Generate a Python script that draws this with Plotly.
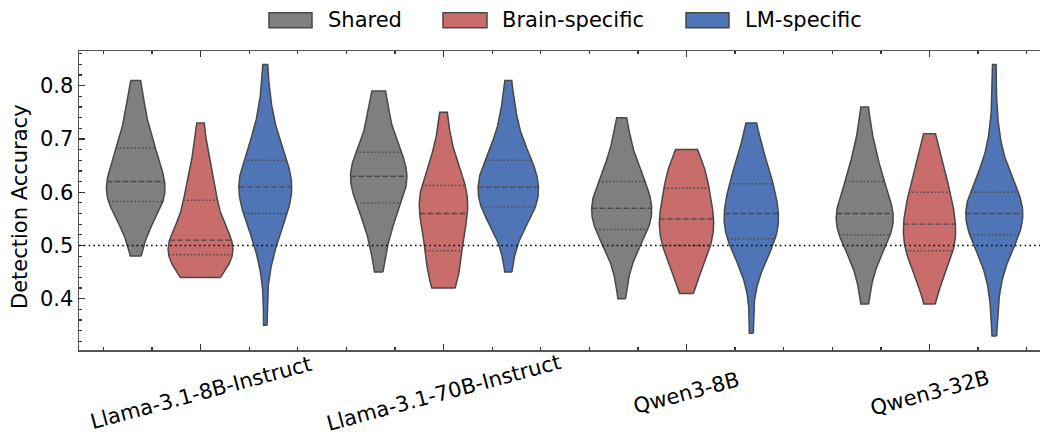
import numpy as np
import plotly.graph_objects as go

# ---------------- data ----------------
models = ["Llama-3.1-8B-Instruct", "Llama-3.1-70B-Instruct", "Qwen3-8B", "Qwen3-32B"]
groups = ["Shared", "Brain-specific", "LM-specific"]
colors = ["#7f7f7f", "#c86c6c", "#5075b6"]

llama8b_shared = [0.48, 0.51, 0.53, 0.55, 0.56, 0.57, 0.575, 0.58, 0.585, 0.59, 0.595, 0.60, 0.605, 0.61, 0.615, 0.62,
                  0.625, 0.63, 0.64, 0.65, 0.66, 0.67, 0.68, 0.685, 0.69, 0.70, 0.72, 0.74, 0.76, 0.78, 0.81]
llama8b_brain = [0.44, 0.44, 0.445, 0.45, 0.46, 0.465, 0.475, 0.48, 0.485, 0.49, 0.49, 0.495, 0.50, 0.50, 0.505, 0.51,
                 0.515, 0.52, 0.53, 0.54, 0.55, 0.57, 0.58, 0.59, 0.60, 0.61, 0.62, 0.64, 0.66, 0.69, 0.73]
llama8b_lm = [0.35, 0.46, 0.49, 0.51, 0.53, 0.54, 0.55, 0.555, 0.565, 0.575, 0.585, 0.59, 0.595, 0.60, 0.605, 0.61,
              0.615, 0.62, 0.625, 0.63, 0.64, 0.65, 0.655, 0.665, 0.67, 0.68, 0.70, 0.72, 0.74, 0.77, 0.84]

llama70b_shared = [0.45, 0.49, 0.51, 0.53, 0.545, 0.56, 0.57, 0.575, 0.585, 0.595, 0.60, 0.61, 0.615, 0.62, 0.625, 0.63,
                   0.635, 0.64, 0.645, 0.65, 0.655, 0.665, 0.67, 0.68, 0.69, 0.70, 0.72, 0.74, 0.76, 0.78, 0.79]
llama70b_brain = [0.42, 0.42, 0.43, 0.44, 0.45, 0.46, 0.475, 0.485, 0.495, 0.51, 0.52, 0.53, 0.54, 0.55, 0.555, 0.56,
                  0.565, 0.57, 0.58, 0.59, 0.60, 0.605, 0.61, 0.615, 0.62, 0.63, 0.64, 0.66, 0.68, 0.71, 0.75]
llama70b_lm = [0.45, 0.50, 0.52, 0.54, 0.55, 0.56, 0.565, 0.57, 0.575, 0.58, 0.585, 0.59, 0.595, 0.60, 0.605, 0.61,
               0.62, 0.63, 0.635, 0.64, 0.645, 0.65, 0.655, 0.665, 0.67, 0.68, 0.70, 0.72, 0.74, 0.76, 0.81]

qwen8b_shared = [0.40, 0.44, 0.47, 0.49, 0.50, 0.51, 0.52, 0.525, 0.535, 0.54, 0.545, 0.55, 0.555, 0.56, 0.565, 0.57,
                 0.575, 0.58, 0.59, 0.595, 0.60, 0.61, 0.615, 0.625, 0.63, 0.64, 0.65, 0.67, 0.69, 0.71, 0.74]
qwen8b_brain = [0.41, 0.43, 0.45, 0.465, 0.475, 0.485, 0.49, 0.495, 0.505, 0.51, 0.52, 0.53, 0.535, 0.54, 0.545, 0.55,
                0.555, 0.56, 0.57, 0.58, 0.59, 0.60, 0.605, 0.61, 0.62, 0.63, 0.64, 0.65, 0.66, 0.67, 0.68]
qwen8b_lm = [0.335, 0.43, 0.46, 0.48, 0.49, 0.50, 0.505, 0.51, 0.515, 0.525, 0.53, 0.54, 0.545, 0.55, 0.555, 0.56,
             0.565, 0.57, 0.58, 0.59, 0.60, 0.61, 0.612, 0.62, 0.63, 0.64, 0.65, 0.66, 0.68, 0.70, 0.73]

qwen32b_shared = [0.39, 0.43, 0.46, 0.48, 0.49, 0.50, 0.51, 0.515, 0.525, 0.53, 0.535, 0.54, 0.545, 0.55, 0.555, 0.56,
                  0.565, 0.57, 0.575, 0.58, 0.59, 0.60, 0.615, 0.625, 0.635, 0.645, 0.655, 0.67, 0.69, 0.72, 0.76]
qwen32b_brain = [0.39, 0.42, 0.44, 0.455, 0.465, 0.475, 0.48, 0.485, 0.495, 0.50, 0.51, 0.515, 0.52, 0.53, 0.535, 0.54,
                 0.55, 0.555, 0.56, 0.57, 0.58, 0.59, 0.595, 0.605, 0.615, 0.625, 0.635, 0.65, 0.665, 0.685, 0.71]
qwen32b_lm = [0.33, 0.40, 0.44, 0.47, 0.49, 0.50, 0.51, 0.515, 0.525, 0.53, 0.535, 0.54, 0.545, 0.55, 0.555, 0.56,
              0.565, 0.57, 0.575, 0.58, 0.585, 0.59, 0.595, 0.605, 0.615, 0.625, 0.64, 0.66, 0.69, 0.74, 0.84]

chance_level = 0.5
yticks = [0.4, 0.5, 0.6, 0.7, 0.8]

data = [
    [llama8b_shared, llama8b_brain, llama8b_lm],
    [llama70b_shared, llama70b_brain, llama70b_lm],
    [qwen8b_shared, qwen8b_brain, qwen8b_lm],
    [qwen32b_shared, qwen32b_brain, qwen32b_lm],
]

# ---------------- layout constants ----------------
W, H = 1040, 435
ML, MR, MT, MB = 79, 0, 51, 435 - 350
PX_PER_UNIT = 243.0
X_RANGE = [-0.5, -0.5 + (W - ML - MR) / PX_PER_UNIT]
Y_RANGE = [0.3037, 0.8652]
FONT = "DejaVu Sans"
FS = 21
EDGE = "#484848"
DODGE = 0.8 / 3
HALF_MAX = DODGE / 2


def kde(values, grid):
    v = np.asarray(values, dtype=float)
    n = len(v)
    bw = v.std(ddof=1) * n ** (-1 / 5)
    z = (grid[:, None] - v[None, :]) / bw
    return np.exp(-0.5 * z ** 2).sum(axis=1) / (n * bw * np.sqrt(2 * np.pi))


dens = []
gmax = 0.0
for gi, row in enumerate(data):
    drow = []
    for hi, vals in enumerate(row):
        grid = np.linspace(min(vals), max(vals), 200)
        d = kde(vals, grid)
        gmax = max(gmax, d.max())
        drow.append((grid, d))
    dens.append(drow)

fig = go.Figure()
for gi, row in enumerate(data):
    for hi, vals in enumerate(row):
        grid, d = dens[gi][hi]
        hw = d / gmax * HALF_MAX
        c = gi + (hi - 1) * DODGE
        xs = np.concatenate([c + hw, (c - hw)[::-1], [c + hw[0]]])
        ys = np.concatenate([grid, grid[::-1], [grid[0]]])
        fig.add_trace(go.Scatter(x=xs, y=ys, mode="lines", fill="toself",
                                 fillcolor=colors[hi], line=dict(color=EDGE, width=1.5),
                                 showlegend=False, hoverinfo="skip"))
        q1, med, q3 = np.percentile(vals, [25, 50, 75])
        for q, dash in [(q1, "1.5px,2.2px"), (med, "5.5px,2.5px"), (q3, "1.5px,2.2px")]:
            w = float(np.interp(q, grid, hw))
            fig.add_trace(go.Scatter(x=[c - w, c + w], y=[q, q], mode="lines",
                                     line=dict(color=EDGE, width=1.4, dash=dash),
                                     showlegend=False, hoverinfo="skip"))

fig.add_shape(type="line", xref="paper", x0=0, x1=1, yref="y", y0=chance_level, y1=chance_level,
              line=dict(color="black", width=1.6, dash="1.6px,3.2px"), layer="above")


def px_x(p):
    return (p - ML) / (W - ML - MR)


def px_y(p):
    return 1 - (p - MT) / (H - MT - MB)


# legend
leg_patch = [(269, 312), (443, 487), (686, 729)]
leg_text_x = [326, 500, 743]
for hi, g in enumerate(groups):
    x0, x1 = leg_patch[hi]
    fig.add_shape(type="rect", xref="paper", yref="paper",
                  x0=px_x(x0), x1=px_x(x1), y0=px_y(27.7), y1=px_y(12.7),
                  fillcolor=colors[hi], line=dict(color=EDGE, width=1.5))
    fig.add_annotation(text=g, xref="paper", yref="paper", x=px_x(leg_text_x[hi]), y=px_y(20),
                       xanchor="left", yanchor="middle", showarrow=False,
                       font=dict(family=FONT, size=FS, color="black"))

for gi, m in enumerate(models):
    fig.add_annotation(text=m, xref="x", yref="paper", x=gi, y=px_y(393),
                       xanchor="center", yanchor="middle", textangle=-15, showarrow=False,
                       borderpad=0, font=dict(family=FONT, size=FS, color="black"))

fig.add_annotation(text="Detection Accuracy", xref="paper", yref="paper", x=px_x(20), y=px_y(207),
                   xanchor="center", yanchor="middle", textangle=-90, showarrow=False,
                   font=dict(family=FONT, size=FS, color="black"))

fig.update_layout(
    width=W, height=H, margin=dict(l=ML, r=MR, t=MT, b=MB, autoexpand=False),
    plot_bgcolor="white", paper_bgcolor="white", showlegend=False,
    font=dict(family=FONT, size=FS, color="black"),
    xaxis=dict(range=X_RANGE, tickvals=list(range(len(models))), showticklabels=False,
               ticks="inside", ticklen=6, tickwidth=1.2, tickcolor="#333",
               showline=True, linecolor="#555", linewidth=1.5, mirror="ticks",
               showgrid=False, zeroline=False,
               minor=dict(tick0=0, dtick=0.2, ticks="inside", ticklen=3, tickcolor="#333", showgrid=False)),
    yaxis=dict(range=Y_RANGE, tickvals=yticks, ticktext=[f"{t:.1f}" for t in yticks],
               ticks="inside", ticklen=6, tickwidth=1.2, tickcolor="#333",
               showline=True, linecolor="#555", linewidth=1.5,
               showgrid=False, zeroline=False, tickfont=dict(family=FONT, size=FS, color="black"),
               minor=dict(tick0=0, dtick=0.02, ticks="inside", ticklen=3, tickcolor="#333", showgrid=False)),
)

# remove the browser's default 8px page margin so the figure fills the window exactly
fig.write_html("out.html", config={"displayModeBar": False, "staticPlot": True},
               post_script="document.body.style.margin='0';document.body.style.overflow='hidden';")
